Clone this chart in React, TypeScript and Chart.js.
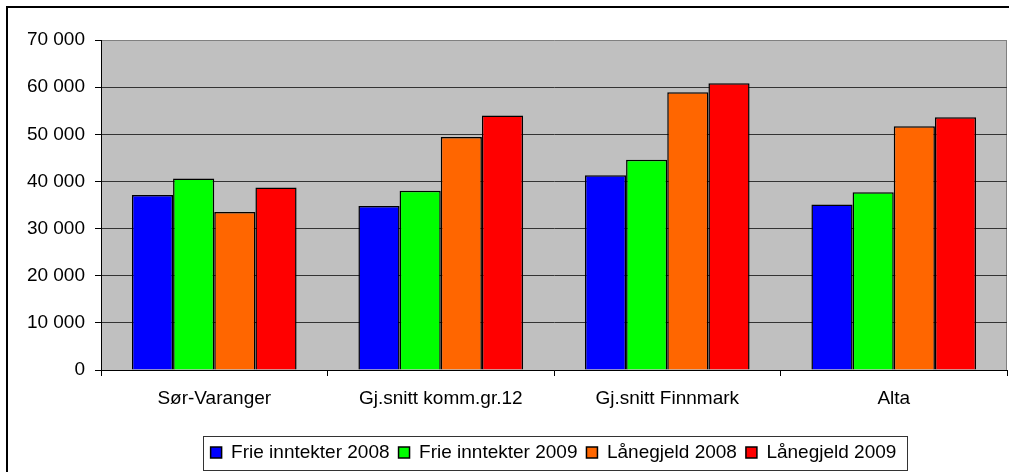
import { useEffect, useRef } from 'react';
import { Chart, registerables } from 'chart.js';

Chart.register(...registerables);

const categories = ['Sør-Varanger', 'Gj.snitt komm.gr.12', 'Gj.snitt Finnmark', 'Alta'];
const seriesNames = ['Frie inntekter 2008', 'Frie inntekter 2009', 'Lånegjeld 2008', 'Lånegjeld 2009'];
const frie2008 = [37100, 34800, 41300, 35100];
const frie2009 = [40600, 38000, 44600, 37700];
const laan2008 = [33500, 49400, 58900, 51700];
const laan2009 = [38700, 54000, 60800, 53600];
const seriesColors = ['#0000FF', '#00FF00', '#FF6600', '#FF0000'];
const yMin = 0;
const yMax = 70000;
const yStep = 10000;

const FONT = 'Liberation Sans, Arial, sans-serif';
const LEGEND_PAD = 9;

const fmt = (v: number) => String(v).replace(/\B(?=(\d{3})+(?!\d))/g, ' ');

const framePlugin = {
  id: 'frame',
  afterLayout(chart: any) {
    // centre the legend under the plot area (as in the original)
    const lg = chart.legend;
    const a = chart.chartArea;
    if (lg && a) {
      lg.left = a.left - 1;
      lg.right = a.right;
      lg.width = lg.right - lg.left;
    }
  },
  beforeDraw(chart: any) {
    const { ctx, chartArea: a, width, height } = chart;
    ctx.save();
    ctx.fillStyle = '#ffffff';
    ctx.fillRect(0, 0, width, height);
    ctx.fillStyle = '#C0C0C0';
    ctx.fillRect(a.left, a.top, a.right - a.left, a.bottom - a.top);
    // outer chart frame (top and left edges visible)
    ctx.fillStyle = '#000000';
    ctx.fillRect(6, 6, width - 6, 2);
    ctx.fillRect(6, 6, 2, height - 6);
    // right border of plot area
    ctx.strokeStyle = '#808080';
    ctx.lineWidth = 1;
    ctx.beginPath();
    ctx.moveTo(Math.round(a.right) - 0.5, a.top);
    ctx.lineTo(Math.round(a.right) - 0.5, a.bottom);
    ctx.stroke();
    ctx.restore();
  },
  afterDraw(chart: any) {
    const { ctx } = chart;
    const lg = chart.legend;
    if (lg && lg.lineWidths && lg.lineWidths.length) {
      const lw = lg.lineWidths[0];
      const x = (lg.left + LEGEND_PAD + lg.right - lw) / 2;
      const l = x - 8;
      const r = x + lw - LEGEND_PAD + 10;
      const t = lg.top + LEGEND_PAD - 7.5;
      const b = t + 19 + 15;
      ctx.save();
      ctx.strokeStyle = '#333333';
      ctx.lineWidth = 1;
      ctx.strokeRect(Math.round(l) + 0.5, Math.round(t) + 0.5, Math.round(r - l), Math.round(b - t));
      ctx.restore();
    }
  },
};

export default function App() {
  const ref = useRef<HTMLCanvasElement | null>(null);

  useEffect(() => {
    if (!ref.current) return;
    const series = [frie2008, frie2009, laan2008, laan2009];
    const chart = new Chart(ref.current, {
      type: 'bar',
      data: {
        labels: categories,
        datasets: series.map((d, i) => ({
          label: seriesNames[i],
          data: d,
          backgroundColor: seriesColors[i],
          borderColor: '#000000',
          borderWidth: 1.5,
          categoryPercentage: 0.727,
          barPercentage: 1,
        })),
      },
      options: {
        responsive: false,
        animation: false,
        devicePixelRatio: 1,
        layout: { padding: { left: 0, right: 2, top: 40, bottom: 0 } },
        plugins: {
          tooltip: { enabled: false },
          title: { display: false },
          legend: {
            position: 'bottom',
            labels: {
              boxWidth: 11,
              boxHeight: 11,
              padding: LEGEND_PAD,
              color: '#000000',
              font: { family: FONT, size: 19 },
            },
          },
        },
        scales: {
          x: {
            afterFit: (s: any) => {
              s.height = 64;
            },
            grid: {
              display: true,
              drawOnChartArea: false,
              drawTicks: true,
              tickLength: 6,
              tickColor: '#000000',
              offset: true,
            },
            border: { display: true, color: '#000000', width: 1 },
            ticks: {
              color: '#000000',
              padding: 11,
              maxRotation: 0,
              autoSkip: false,
              font: { family: FONT, size: 19 },
            },
          },
          y: {
            min: yMin,
            max: yMax,
            afterFit: (s: any) => {
              s.width = 101;
            },
            grid: {
              color: (c: any) => (c.tick && c.tick.value === yMax ? '#808080' : '#333333'),
              tickColor: '#000000',
              tickLength: 6,
            },
            border: { display: true, color: '#000000', width: 1 },
            ticks: {
              stepSize: yStep,
              color: '#000000',
              padding: 10,
              font: { family: FONT, size: 19 },
              callback: (v: any) => fmt(Number(v)),
            },
          },
        },
      },
      plugins: [framePlugin],
    });
    return () => chart.destroy();
  }, []);

  return (
    <div style={{ position: 'fixed', left: 0, top: 0, width: 1009, height: 472 }}>
      <canvas ref={ref} width={1009} height={472} style={{ display: 'block' }} />
    </div>
  );
}
